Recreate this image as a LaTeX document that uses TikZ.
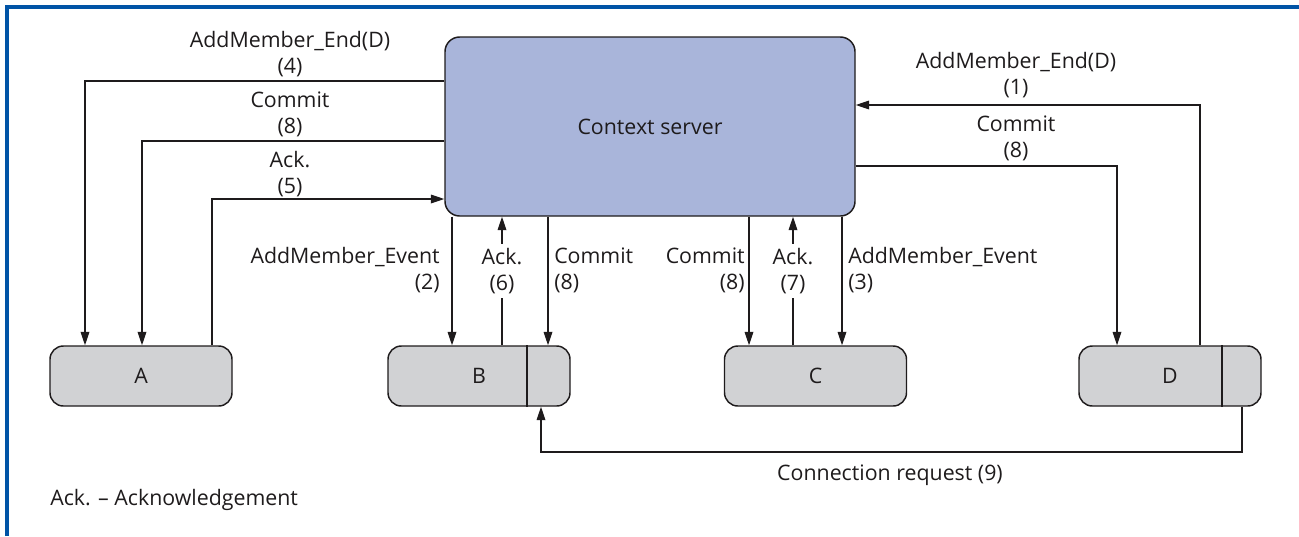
\documentclass[tikz,border=0pt]{standalone}
\usepackage{fontspec}
\setmainfont{Open Sans}
\usetikzlibrary{arrows.meta}
\definecolor{frameblue}{RGB}{0,84,166}
\definecolor{serverfill}{RGB}{169,181,218}
\definecolor{boxfill}{RGB}{209,210,212}
\definecolor{ink}{RGB}{30,27,28}
\tikzset{
  server/.style={draw=ink, line width=1.1pt, fill=serverfill, rounded corners=11pt,
    minimum width=307.5pt, minimum height=134.25pt, inner sep=0pt, text=ink},
  member/.style={draw=ink, line width=1.1pt, fill=boxfill, rounded corners=10pt,
    minimum width=136.5pt, minimum height=45pt, inner sep=0pt, text=ink},
  link/.style={draw=ink, line width=0.9pt},
  msg/.style={link, -{Triangle[length=10pt,width=6.5pt]}},
  lbl/.style={text=ink, inner sep=0pt, align=center},
  lblL/.style={lbl, align=left, anchor=west},
  lblR/.style={lbl, align=right, anchor=east},
  gap/.style={fill=white, inner xsep=1pt, inner ysep=3pt},
}
\begin{document}
\begin{tikzpicture}[x=0.75pt, y=-0.75pt, font=\fontsize{16}{19.5}\selectfont]
  \useasboundingbox (0,0) rectangle (1299,536);

  % frame: top and left rule
  \draw[frameblue, line width=2.4pt] (7,536) -- (7,7) -- (1299,7);

  % nodes
  \node[server] (S) at (650,126.5) {Context server};
  \node[member] (A) at (141,376) {A};
  \node[member] (B) at (479,376) {B};
  \node[member] (C) at (815.5,376) {C};
  \node[member] (D) at (1170,376) {D};

  % dividers inside B and D
  \coordinate (divB) at (527,0);
  \coordinate (divD) at (1222,0);
  \draw[link, line width=1.1pt] (B.north -| divB) -- (B.south -| divB);
  \draw[link, line width=1.1pt] (D.north -| divD) -- (D.south -| divD);

  % helper coordinates for connector routes
  \coordinate (x4) at (85,0);   \coordinate (y4) at (0,81);
  \coordinate (x8a) at (142,0); \coordinate (y8a) at (0,141);
  \coordinate (x5) at (212,0);  \coordinate (y5) at (0,199);
  \coordinate (x1) at (1200,0); \coordinate (y1) at (0,105);
  \coordinate (x8d) at (1117,0); \coordinate (y8d) at (0,166);
  \coordinate (x2) at (452,0);  \coordinate (x6) at (502,0);  \coordinate (x8b) at (548,0);
  \coordinate (x8c) at (749,0); \coordinate (x7) at (793,0);  \coordinate (x3) at (842,0);
  \coordinate (x9) at (1242,0); \coordinate (y9) at (0,452);  \coordinate (x9b) at (541,0);

  % server <-> A
  \draw[msg] (S.west |- y4) -| (A.north -| x4);
  \draw[msg] (S.west |- y8a) -| (A.north -| x8a);
  \draw[msg] (A.north -| x5) |- (S.west |- y5);

  % server <-> D
  \draw[msg] (D.north -| x1) |- (S.east |- y1);
  \draw[msg] (S.east |- y8d) -| (D.north -| x8d);

  % server <-> B
  \draw[msg] (S.south -| x2) -- (B.north -| x2);
  \draw[msg] (B.north -| x6) -- (S.south -| x6);
  \draw[msg] (S.south -| x8b) -- (B.north -| x8b);

  % server <-> C
  \draw[msg] (S.south -| x8c) -- (C.north -| x8c);
  \draw[msg] (C.north -| x7) -- (S.south -| x7);
  \draw[msg] (S.south -| x3) -- (C.north -| x3);

  % D -> B connection request
  \coordinate (c9) at (x9 |- y9);
  \draw[msg] (D.south -| x9) -- (c9) -| (B.south -| x9b);

  % labels
  \node[lbl] (l4) at (290,54) {AddMember\_End(D)\\(4)};
  \node[lbl] (l8a) at (290,114) {Commit\\(8)};
  \node[lbl] (l5) at (290,174) {Ack.\\(5)};
  \node[lbl] (l1) at (1016,75) {AddMember\_End(D)\\(1)};
  \node[lbl] (l8d) at (1016,138) {Commit\\(8)};
  \node[lblR] (l2) at (440,270) {AddMember\_Event\\(2)};
  \node[lbl, gap] (l6) at (502,271) {Ack.\\(6)};
  \node[lblL] (l8b) at (554,270) {Commit\\(8)};
  \node[lblR] (l8c) at (745,270) {Commit\\(8)};
  \node[lbl, gap] (l7) at (793,271) {Ack.\\(7)};
  \node[lblL] (l3) at (848,270) {AddMember\_Event\\(3)};
  \node[lbl] (l9) at (890,475) {Connection request (9)};
  \node[lblL] (key) at (50,500) {Ack. – Acknowledgement};
\end{tikzpicture}
\end{document}
